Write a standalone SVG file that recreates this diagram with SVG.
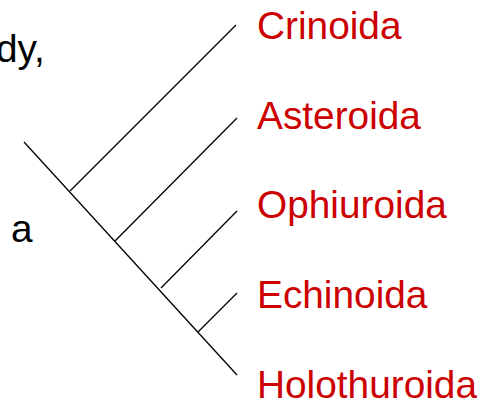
<svg xmlns="http://www.w3.org/2000/svg" width="490" height="402" viewBox="0 0 490 402">
<style>
.l{stroke:#000;stroke-width:1.3;fill:none;stroke-linecap:butt}
.t{font-family:"Liberation Sans",Arial,sans-serif;font-size:38.8px;fill:#cc0000}
.k{font-family:"Liberation Sans",Arial,sans-serif;font-size:38.8px;fill:#000}
</style>
<rect width="490" height="402" fill="#fff"/>
<g id="connectors">
<line class="l" x1="24" y1="142" x2="237" y2="375"/>
<line class="l" x1="70" y1="191" x2="236" y2="25"/>
<line class="l" x1="115" y1="241" x2="237" y2="118"/>
<line class="l" x1="161" y1="288" x2="237" y2="211"/>
<line class="l" x1="198" y1="332" x2="237" y2="293"/>
</g>
<g id="frag1"><text class="k" x="-4" y="62">dy,</text></g>
<g id="frag2"><text class="k" x="11" y="242">a</text></g>
<g id="crinoida"><text class="t" x="257" y="39">Crinoida</text></g>
<g id="asteroida"><text class="t" x="257" y="129">Asteroida</text></g>
<g id="ophiuroida"><text class="t" x="257" y="218">Ophiuroida</text></g>
<g id="echinoida"><text class="t" x="257" y="308">Echinoida</text></g>
<g id="holothuroida"><text class="t" x="257" y="398">Holothuroida</text></g>
</svg>
